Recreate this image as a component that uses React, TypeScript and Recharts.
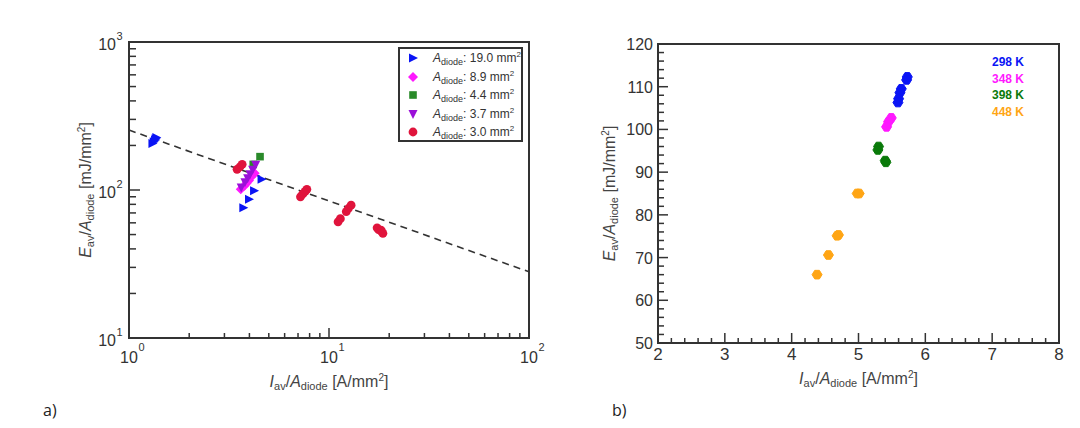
import React from 'react';
import {Legend, ReferenceArea, ReferenceLine, Scatter, ScatterChart, XAxis, YAxis} from 'recharts';

// panel a) E/A vs I/A (log-log), one list of [I/A, E/A] per diode area
const AREAS = ['19.0', '8.9', '4.4', '3.7', '3.0'];
const A190 = [[1.31, 206], [1.33, 212], [1.35, 218], [1.37, 226], [1.36, 222], [4.6, 118], [4.22, 99], [3.98, 86.5], [3.73, 76]];
const A89 = [[3.62, 101], [3.78, 107], [3.87, 111], [3.98, 116], [4.1, 123], [4.25, 130]];
const A44 = [[4.18, 149], [4.52, 168]];
const A37 = [[3.64, 104], [3.8, 113], [3.92, 120], [4.03, 128], [4.15, 137], [4.3, 148]];
const A30 = [
  [3.47, 138], [3.58, 143], [3.68, 149],
  [7.2, 90], [7.4, 94], [7.6, 98], [7.75, 101],
  [11.1, 61], [11.4, 64], [12.2, 71.5], [12.5, 75], [12.9, 79],
  [17.4, 55.5], [17.7, 54], [18.2, 53.5], [18.3, 52.5], [18.6, 51],
];
const FIT = [[1, 254], [100, 28]];

const X_TICKS_A = [1, 2, 3, 4, 5, 6, 7, 8, 9, 10, 20, 30, 40, 50, 60, 70, 80, 90, 100];
const Y_TICKS_A = [10, 20, 30, 40, 50, 60, 70, 80, 90, 100, 200, 300, 400, 500, 600, 700, 800, 900, 1000];
const X_MAJOR_A = [1, 10, 100];
const Y_MAJOR_A = [10, 100, 1000];

// panel b) E/A vs I/A for each temperature
const TEMPS = ['298 K', '348 K', '398 K', '448 K'];
const T298 = [[5.73, 112.3], [5.72, 111.6], [5.64, 109.5], [5.62, 108.6], [5.6, 107.2], [5.59, 106.3]];
const T348 = [[5.49, 102.7], [5.45, 101.8], [5.42, 100.6]];
const T398 = [[5.3, 96.0], [5.29, 95.2], [5.4, 92.7], [5.41, 92.3]];
const T448 = [[4.98, 85.0], [5.01, 85.0], [4.7, 75.3], [4.68, 75.1], [4.55, 70.6], [4.38, 66.0]];

const X_MAJOR_B = [2, 3, 4, 5, 6, 7, 8];
const Y_MAJOR_B = [50, 60, 70, 80, 90, 100, 110, 120];
const X_TICKS_B = Array.from({length: 31}, (_, i) => +(2 + i * 0.2).toFixed(1));
const Y_TICKS_B = Array.from({length: 36}, (_, i) => 50 + i * 2);

const FONT = '"Liberation Sans", Arial, sans-serif';
const INK = '#333';

const pts = (a: number[][]) => a.map(([x, y]) => ({x, y}));

type Kind = 'triRight' | 'diamond' | 'square' | 'triDown' | 'circle' | 'hex';

const Marker = ({kind, cx, cy, color}: {kind: Kind; cx: number; cy: number; color: string}) => {
  switch (kind) {
    case 'triRight':
      return <polygon points={`${cx - 4},${cy - 4.5} ${cx + 5},${cy} ${cx - 4},${cy + 4.5}`} fill={color} />;
    case 'triDown':
      return <polygon points={`${cx - 4.5},${cy - 4} ${cx + 4.5},${cy - 4} ${cx},${cy + 5}`} fill={color} />;
    case 'diamond':
      return <polygon points={`${cx},${cy - 5} ${cx + 5},${cy} ${cx},${cy + 5} ${cx - 5},${cy}`} fill={color} />;
    case 'square':
      return <rect x={cx - 3.8} y={cy - 3.8} width={7.6} height={7.6} fill={color} />;
    case 'hex':
      return (
        <polygon
          points={`${cx - 5},${cy} ${cx - 2.3},${cy - 4.3} ${cx + 2.3},${cy - 4.3} ${cx + 5},${cy} ${cx + 2.3},${cy + 4.3} ${cx - 2.3},${cy + 4.3}`}
          fill={color}
          stroke={color}
          strokeWidth={1}
          strokeLinejoin="round"
        />
      );
    default:
      return <circle cx={cx} cy={cy} r={4.4} fill={color} />;
  }
};

const SERIES_A: {area: string; data: number[][]; color: string; kind: Kind}[] = [
  {area: AREAS[0], data: A190, color: '#0a14f5', kind: 'triRight'},
  {area: AREAS[1], data: A89, color: '#ff19ff', kind: 'diamond'},
  {area: AREAS[2], data: A44, color: '#2a8a2a', kind: 'square'},
  {area: AREAS[3], data: A37, color: '#9a10d8', kind: 'triDown'},
  {area: AREAS[4], data: A30, color: '#e0143c', kind: 'circle'},
];

const SERIES_B = [
  {name: TEMPS[0], data: T298, color: '#0a14f5'},
  {name: TEMPS[1], data: T348, color: '#ff19ff'},
  {name: TEMPS[2], data: T398, color: '#0a7a0a'},
  {name: TEMPS[3], data: T448, color: '#ffa514'},
];

// inward ticks, labels only on the majors
const LogXTick = (p: any) => {
  const v = p.payload.value;
  const i = X_MAJOR_A.indexOf(v);
  return (
    <g>
      <line x1={p.x} x2={p.x} y1={p.y} y2={p.y - (i >= 0 ? 10 : 5)} stroke={INK} strokeWidth={1.5} />
      {i >= 0 && (
        <g fill={INK} fontFamily={FONT}>
          <text x={p.x} y={p.y + 25} textAnchor="middle" fontSize={16}>10</text>
          <text x={p.x + 9.5} y={p.y + 13} fontSize={11}>{i}</text>
        </g>
      )}
    </g>
  );
};

const LogYTick = (p: any) => {
  const v = p.payload.value;
  const i = Y_MAJOR_A.indexOf(v);
  return (
    <g>
      <line x1={p.x} x2={p.x + (i >= 0 ? 11 : 7)} y1={p.y} y2={p.y} stroke={INK} strokeWidth={1.5} />
      {i >= 0 && (
        <g fill={INK} fontFamily={FONT}>
          <text x={p.x - 13} y={p.y + 8} textAnchor="end" fontSize={16}>10</text>
          <text x={p.x - 12.5} y={p.y - 2} fontSize={11}>{i + 1}</text>
        </g>
      )}
    </g>
  );
};

const LinXTick = (p: any) => {
  const v = p.payload.value;
  const major = X_MAJOR_B.some(m => Math.abs(m - v) < 1e-6);
  return (
    <g>
      <line x1={p.x} x2={p.x} y1={p.y} y2={p.y - (major ? 10 : 5)} stroke={INK} strokeWidth={1.5} />
      {major && (
        <text x={p.x} y={p.y + 17} textAnchor="middle" fontSize={17} fill={INK} fontFamily={FONT}>
          {Math.round(v)}
        </text>
      )}
    </g>
  );
};

const LinYTick = (p: any) => {
  const v = p.payload.value;
  const major = Y_MAJOR_B.includes(v);
  return (
    <g>
      <line x1={p.x} x2={p.x + (major ? 10 : 6)} y1={p.y} y2={p.y} stroke={INK} strokeWidth={1.5} />
      {major && (
        <text x={p.x - 5} y={p.y + 6} textAnchor="end" fontSize={16} fill={INK} fontFamily={FONT}>
          {v}
        </text>
      )}
    </g>
  );
};

const XTitle = ({viewBox, dy}: any) => {
  const cx = viewBox.x + viewBox.width / 2;
  return (
    <text x={cx} y={viewBox.y + dy} textAnchor="middle" fontSize={16} fill="#444" fontFamily={FONT}>
      <tspan fontStyle="italic">I</tspan>
      <tspan fontSize={11} dy={3}>av</tspan>
      <tspan dy={-3}>/</tspan>
      <tspan fontStyle="italic">A</tspan>
      <tspan fontSize={11} dy={3}>diode</tspan>
      <tspan dy={-3}> [A/mm</tspan>
      <tspan fontSize={10} dy={-6}>2</tspan>
      <tspan dy={6}>]</tspan>
    </text>
  );
};

const YTitle = ({viewBox, dx}: any) => {
  const x = viewBox.x + dx;
  const y = viewBox.y + viewBox.height / 2;
  return (
    <text x={x} y={y} transform={`rotate(-90, ${x}, ${y})`} textAnchor="middle" fontSize={16} fill="#444" fontFamily={FONT}>
      <tspan fontStyle="italic">E</tspan>
      <tspan fontSize={11} dy={3}>av</tspan>
      <tspan dy={-3}>/</tspan>
      <tspan fontStyle="italic">A</tspan>
      <tspan fontSize={11} dy={3}>diode</tspan>
      <tspan dy={-3}> [mJ/mm</tspan>
      <tspan fontSize={10} dy={-6}>2</tspan>
      <tspan dy={6}>]</tspan>
    </text>
  );
};

const LegendA = () => (
  <div style={{width: 125, height: 95, boxSizing: 'border-box', border: `2px solid ${INK}`, background: '#fff', fontFamily: FONT}}>
    {SERIES_A.map(s => (
      <div key={s.area} style={{display: 'flex', alignItems: 'center', height: 18.5, fontSize: 12, color: INK}}>
        <svg width={12} height={12} style={{marginLeft: 7, marginRight: 14}}>
          <Marker kind={s.kind} cx={6} cy={6} color={s.color} />
        </svg>
        <span style={{whiteSpace: 'nowrap'}}>
          <i>A</i>
          <span style={{fontSize: 9, position: 'relative', top: 3}}>diode</span>: {s.area} mm
          <span style={{fontSize: 8, position: 'relative', top: -5}}>2</span>
        </span>
      </div>
    ))}
  </div>
);

const LegendB = () => (
  <div style={{fontFamily: FONT}}>
    {SERIES_B.map(s => (
      <div key={s.name} style={{height: 16.5, lineHeight: '16.5px', fontSize: 12, fontWeight: 'bold', color: s.color, whiteSpace: 'nowrap'}}>
        {s.name}
      </div>
    ))}
  </div>
);

const PanelA = () => (
  <ScatterChart width={560} height={428} margin={{top: 42, right: 31, bottom: 50, left: 69}}>
    <XAxis
      type="number"
      dataKey="x"
      scale="log"
      domain={[1, 100]}
      ticks={X_TICKS_A}
      interval={0}
      allowDataOverflow
      axisLine={false}
      tickLine={false}
      tickSize={0}
      tickMargin={0}
      height={40}
      tick={LogXTick}
      label={{content: (p: any) => <XTitle {...p} dy={49} />}}
    />
    <YAxis
      type="number"
      dataKey="y"
      scale="log"
      domain={[10, 1000]}
      ticks={Y_TICKS_A}
      interval={0}
      allowDataOverflow
      axisLine={false}
      tickLine={false}
      tickSize={0}
      tickMargin={0}
      width={60}
      tick={LogYTick}
      label={{content: (p: any) => <YTitle {...p} dx={22} />}}
    />
    <ReferenceArea x1={1} x2={100} y1={10} y2={1000} fill="none" stroke={INK} strokeWidth={2} ifOverflow="visible" />
    <ReferenceLine
      segment={FIT.map(([x, y]) => ({x, y}))}
      stroke={INK}
      strokeWidth={1.6}
      strokeDasharray="7 5"
      ifOverflow="visible"
    />
    {SERIES_A.map(s => (
      <Scatter
        key={s.area}
        name={s.area}
        data={pts(s.data)}
        fill={s.color}
        isAnimationActive={false}
        shape={(p: any) => <Marker kind={s.kind} cx={p.cx} cy={p.cy} color={s.color} />}
      />
    ))}
    <Legend
      layout="vertical"
      align="center"
      verticalAlign="middle"
      content={() => <LegendA />}
      wrapperStyle={{left: 398, top: 47, width: 125, height: 95}}
    />
  </ScatterChart>
);

const PanelB = () => (
  <ScatterChart width={540} height={428} margin={{top: 44, right: 21, bottom: 45, left: 68}}>
    <XAxis
      type="number"
      dataKey="x"
      domain={[2, 8]}
      ticks={X_TICKS_B}
      interval={0}
      allowDataOverflow
      axisLine={false}
      tickLine={false}
      tickSize={0}
      tickMargin={0}
      height={40}
      tick={LinXTick}
      label={{content: (p: any) => <XTitle {...p} dy={41} />}}
    />
    <YAxis
      type="number"
      dataKey="y"
      domain={[50, 120]}
      ticks={Y_TICKS_B}
      interval={0}
      allowDataOverflow
      axisLine={false}
      tickLine={false}
      tickSize={0}
      tickMargin={0}
      width={50}
      tick={LinYTick}
      label={{content: (p: any) => <YTitle {...p} dx={7} />}}
    />
    <ReferenceArea x1={2} x2={8} y1={50} y2={120} fill="none" stroke={INK} strokeWidth={2} ifOverflow="visible" />
    {SERIES_B.map(s => (
      <Scatter
        key={s.name}
        name={s.name}
        data={pts(s.data)}
        fill={s.color}
        isAnimationActive={false}
        shape={(p: any) => <Marker kind="hex" cx={p.cx} cy={p.cy} color={s.color} />}
      />
    ))}
    <Legend
      layout="vertical"
      align="center"
      verticalAlign="middle"
      content={() => <LegendB />}
      wrapperStyle={{left: 452, top: 54, width: 60}}
    />
  </ScatterChart>
);

const panelTag: React.CSSProperties = {
  position: 'absolute',
  top: 400,
  fontSize: 16,
  lineHeight: '20px',
  fontFamily: '"Open Sans", "Noto Sans", sans-serif',
  color: '#222',
};

export default function App() {
  return (
    <div style={{position: 'absolute', left: 0, top: 0, width: 1080, height: 428, background: '#fff', overflow: 'hidden'}}>
      <div style={{position: 'absolute', left: 0, top: 0}}>
        <PanelA />
      </div>
      <div style={{position: 'absolute', left: 540, top: 0}}>
        <PanelB />
      </div>
      <div style={{...panelTag, left: 43}}>a)</div>
      <div style={{...panelTag, left: 612}}>b)</div>
    </div>
  );
}
